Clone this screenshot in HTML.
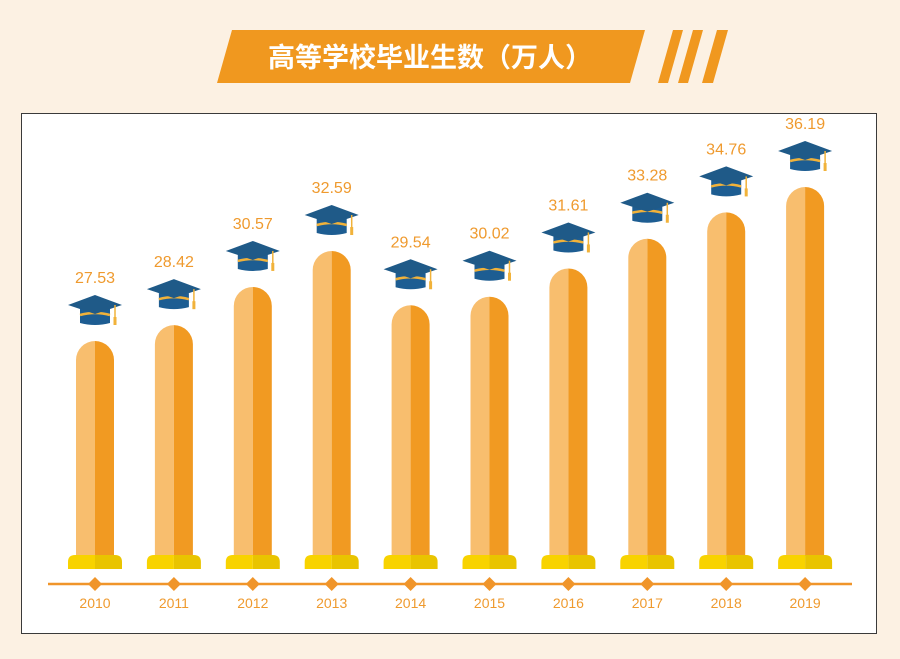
<!DOCTYPE html>
<html><head><meta charset="utf-8">
<style>
body{margin:0;background:#fcf1e3;width:900px;height:659px;overflow:hidden;font-family:"Liberation Sans","Noto Sans CJK SC",sans-serif}
svg{position:absolute;left:0;top:0}
</style></head>
<body>
<svg id="chart" width="900" height="659">
<rect x="0" y="0" width="900" height="659" fill="#fcf1e3"/>
<rect x="21.5" y="113.5" width="855" height="520" fill="#fff" stroke="#3a3a3a" stroke-width="1"/>
<g>
<polygon points="232,30 645,30 630,83 217,83" fill="#f0981f"/>
<polygon points="673,30 683,30 668,83 658,83" fill="#f0981f"/>
<polygon points="693,30 703,30 688,83 678,83" fill="#f0981f"/>
<polygon points="717,30 728,30 713,83 702,83" fill="#f0981f"/>
<text x="430" y="67" text-anchor="middle" font-size="27" font-weight="bold" fill="#fff" font-family="'Noto Sans CJK SC',sans-serif">高等学校毕业生数（万人）</text>
</g>
<line x1="48" y1="584" x2="852" y2="584" stroke="#f0952a" stroke-width="2.5"/>
<g id="marks"></g>
</svg>
<script>
const years=["2010","2011","2012","2013","2014","2015","2016","2017","2018","2019"];
const values=[27.53,28.42,30.57,32.59,29.54,30.02,31.61,33.28,34.76,36.19];
const labels=["27.53","28.42","30.57","32.59","29.54","30.02","31.61","33.28","34.76","36.19"];
const NS="http://www.w3.org/2000/svg";
function xScale(i){return 95+i*78.9;}
function yScale(v){return 341-(v-27.53)*(341-187)/(36.19-27.53);}
const g=document.getElementById('marks');
function mk(tag,attrs,parent){const e=document.createElementNS(NS,tag);for(const k in attrs)e.setAttribute(k,attrs[k]);(parent||g).appendChild(e);return e;}
years.forEach((yr,i)=>{
  const cx=xScale(i), top=yScale(values[i]), w=38, r=19, bot=556;
  const grp=mk('g',{});
  
  
  mk('path',{d:`M${cx-w/2},${bot} L${cx-w/2},${top+r} A${r},${r} 0 0 1 ${cx},${top} L${cx},${bot} Z`,fill:'#f8be6e'},grp);
  mk('path',{d:`M${cx},${top} A${r},${r} 0 0 1 ${cx+w/2},${top+r} L${cx+w/2},${bot} L${cx},${bot} Z`,fill:'#f19a22'},grp);
  const base=mk('g',{});
  
  
  mk('path',{d:`M${cx-27},569 L${cx-27},562 Q${cx-27},555 ${cx-20},555 L${cx},555 L${cx},569 Z`,fill:'#f8d300'},base);
  mk('path',{d:`M${cx},555 L${cx+20},555 Q${cx+27},555 ${cx+27},562 L${cx+27},569 L${cx},569 Z`,fill:'#e9c400'},base);
  const hat=mk('g',{});
  
  
  const hy=top-28;
  mk('path',{d:`M${cx-15},${hy-4} L${cx-15},${hy+10} Q${cx},${hy+14} ${cx+15},${hy+10} L${cx+15},${hy-4} Z`,fill:'#1d5d92'},hat);
  mk('path',{d:`M${cx-15},${hy+2} Q${cx},${hy-2} ${cx+15},${hy+2}`,stroke:'#f1b23a','stroke-width':2.5,fill:'none'},hat);
  mk('polygon',{points:`${cx},${hy-18} ${cx+27},${hy-8} ${cx},${hy+1} ${cx-27},${hy-8}`,fill:'#1f5a88'},hat);
  mk('line',{x1:cx+20,y1:hy-8,x2:cx+20,y2:hy+8,stroke:'#f1b23a','stroke-width':1.5},hat);
  mk('rect',{x:cx+18.5,y:hy+4,width:3,height:8,fill:'#f1b23a'},hat);
  const t=mk('text',{x:cx,y:top-58,'text-anchor':'middle','font-size':16,fill:'#ef9a2e'});
  
  
  t.textContent=labels[i];
  const d=mk('polygon',{points:`${cx},577 ${cx+7},584 ${cx},591 ${cx-7},584`,fill:'#f0952a'});
  
  
  const yl=mk('text',{x:cx,y:608,'text-anchor':'middle','font-size':14,fill:'#ef9a2e'});
  
  
  yl.textContent=yr;
});
</script>
</body></html>
